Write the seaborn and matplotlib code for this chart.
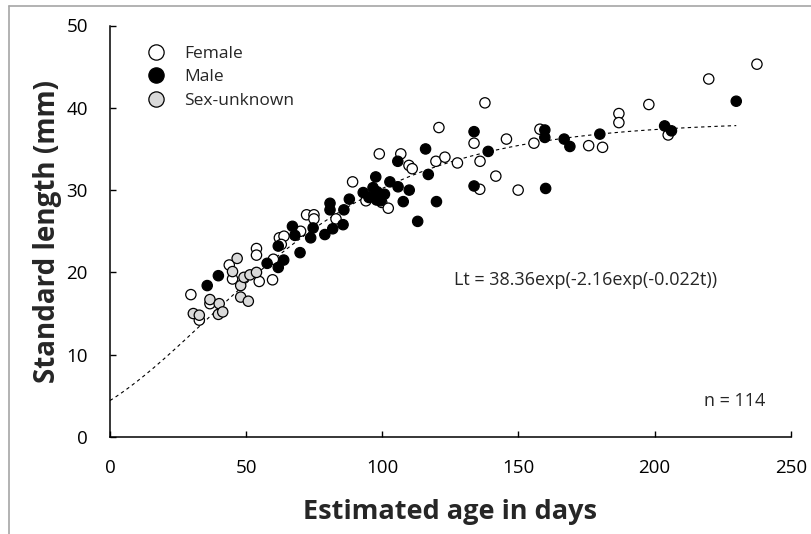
import numpy as np
import pandas as pd
import matplotlib
matplotlib.use("Agg")
import matplotlib.pyplot as plt
from matplotlib.lines import Line2D
import seaborn as sns

# ---- data ----
female_age = [29.7, 32.8, 36.7, 43.8, 45.0, 53.8, 53.8, 54.8, 59.7, 60.0, 62.2, 63.9, 62.9, 70.0, 72.2, 74.9, 74.9,
              83.0, 89.1, 94.0, 98.9, 99.8, 102.2, 106.8, 109.8, 111.0, 119.7, 120.8, 123.0, 127.6, 133.7, 135.8,
              135.9, 137.7, 141.7, 145.6, 149.9, 155.7, 157.9, 175.8, 180.9, 186.9, 186.9, 197.9, 205.0, 219.9, 237.6]
female_len = [17.3, 14.2, 16.2, 20.9, 19.2, 22.9, 22.1, 18.9, 19.1, 21.6, 24.2, 24.4, 23.4, 25.0, 27.0, 27.0, 26.5,
              26.5, 31.0, 28.7, 34.4, 28.5, 27.8, 34.4, 33.0, 32.6, 33.5, 37.6, 34.0, 33.3, 35.7, 30.1,
              33.5, 40.6, 31.7, 36.2, 30.0, 35.7, 37.4, 35.4, 35.2, 39.3, 38.2, 40.4, 36.7, 43.5, 45.3]

male_age = [35.7, 39.8, 57.7, 61.8, 61.8, 63.8, 67.0, 67.9, 69.8, 73.7, 74.6, 78.9, 80.8, 80.8, 81.8, 85.9, 85.6,
            87.9, 93.0, 95.1, 96.6, 97.6, 98.1, 97.9, 99.4, 100.8, 102.8, 105.7, 105.8, 107.7, 109.9, 113.0, 115.9,
            116.9, 119.9, 133.7, 133.7, 138.9, 159.7, 159.7, 160.0, 166.8, 168.9, 179.9, 203.7, 206.2, 230.0]
male_len = [18.4, 19.6, 21.1, 23.2, 20.6, 21.5, 25.6, 24.5, 22.4, 24.2, 25.4, 24.6, 28.4, 27.6, 25.3, 27.6, 25.8,
            28.9, 29.7, 29.1, 30.3, 31.6, 29.8, 28.8, 28.7, 29.5, 31.0, 33.5, 30.4, 28.6, 30.0, 26.2, 35.0,
            31.9, 28.6, 37.1, 30.5, 34.7, 37.3, 36.4, 30.2, 36.2, 35.3, 36.8, 37.8, 37.2, 40.8]

unknown_age = [30.6, 32.8, 36.7, 39.8, 40.1, 41.4, 45.0, 46.7, 48.0, 48.0, 49.2, 50.8, 51.4, 53.8]
unknown_len = [15.0, 14.8, 16.7, 14.9, 16.2, 15.2, 20.1, 21.7, 18.4, 17.0, 19.4, 16.5, 19.7, 20.0]

groups = ["Female", "Male", "Sex-unknown"]
colors = {"Female": "#ffffff", "Male": "#000000", "Sex-unknown": "#d9d9d9"}

# Gompertz fit shown on the chart
L_inf, b_coef, k_coef = 38.36, 2.16, 0.022
t_max = 230
equation = "Lt = 38.36exp(-2.16exp(-0.022t))"
n_label = "n = 114"

x_ticks = [0, 50, 100, 150, 200, 250]
y_ticks = [0, 10, 20, 30, 40, 50]

df = pd.concat([
    pd.DataFrame({"age": female_age, "length": female_len, "sex": "Female"}),
    pd.DataFrame({"age": male_age, "length": male_len, "sex": "Male"}),
    pd.DataFrame({"age": unknown_age, "length": unknown_len, "sex": "Sex-unknown"}),
], ignore_index=True)

t = np.linspace(0, t_max, 300)
curve = pd.DataFrame({"age": t, "length": L_inf * np.exp(-b_coef * np.exp(-k_coef * t))})

# ---- style ----
sns.set_style("ticks")
plt.rcParams["font.family"] = ["Open Sans", "DejaVu Sans"]

W, H = 812, 534
fig = plt.figure(figsize=(W / 100, H / 100), dpi=100)
ax = fig.add_axes([110 / W, 1 - 437 / H, 680.7 / W, 411.5 / H])

sns.lineplot(data=curve, x="age", y="length", ax=ax, color="black", lw=0.8,
             linestyle=(0, (3, 3)), legend=False)
sns.scatterplot(data=df, x="age", y="length", hue="sex", hue_order=groups, palette=colors,
                edgecolor="black", linewidth=0.9, s=55, ax=ax, legend=False, zorder=3)

ax.set_xlim(0, 250)
ax.set_ylim(0, 50)
ax.set_xticks(x_ticks)
ax.set_yticks(y_ticks)
ax.tick_params(direction="in", length=4, width=1, labelsize=13.5, pad=16, colors="black")
for s in ["top", "right"]:
    ax.spines[s].set_visible(False)
for s in ["left", "bottom"]:
    ax.spines[s].set_linewidth(1.1)
    ax.spines[s].set_color("black")

ax.set_xlabel("Estimated age in days", fontsize=19.5, fontweight="bold")
ax.set_ylabel("Standard length (mm)", fontsize=20, fontweight="bold")
ax.xaxis.set_label_coords(0.5, -0.182)
ax.xaxis.label.set_va("center")
ax.yaxis.set_label_coords((47.5 - 110) / 680.7, 0.5)
ax.yaxis.label.set_va("center")

ax.text(174.7, 19.1, equation, ha="center", va="center", fontsize=13)
ax.text(229.4, 4.4, n_label, ha="center", va="center", fontsize=13)

handles = [Line2D([], [], marker="o", linestyle="none", markersize=11,
                  markerfacecolor=colors[g], markeredgecolor="black", markeredgewidth=0.9)
           for g in groups]
leg = ax.legend(handles, groups, loc="upper left", bbox_to_anchor=(0.045, 0.968), frameon=False,
                fontsize=12.5, handlelength=1.0, handletextpad=1.1, labelspacing=0.42,
                borderaxespad=0)

# thin grey frame (top and left) of the original picture
fig.add_artist(Line2D([9 / W, 1], [1 - 6 / H, 1 - 6 / H], color="#a6a6a6", lw=1.2))
fig.add_artist(Line2D([9 / W, 9 / W], [0, 1 - 6 / H], color="#a6a6a6", lw=1.2))

fig.savefig("out.png", dpi=100)
